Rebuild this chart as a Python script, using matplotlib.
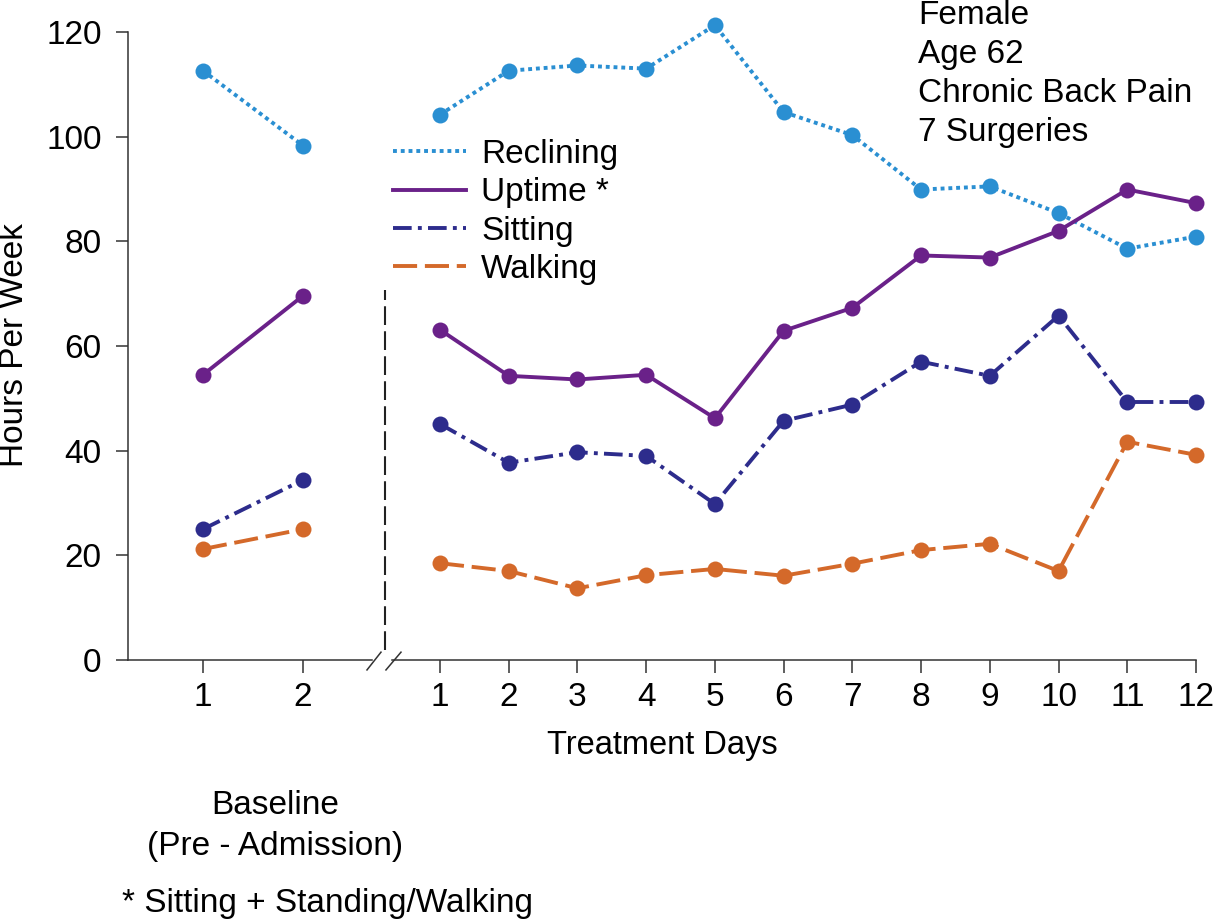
import matplotlib
matplotlib.use('Agg')
import matplotlib.pyplot as plt
from matplotlib.lines import Line2D

W, H = 1213, 921

baseline_days = [1, 2]
treatment_days = list(range(1, 13))

reclining_base = [112.6, 98.3]
uptime_base = [54.5, 69.6]
sitting_base = [25.0, 34.4]
walking_base = [21.2, 25.0]

reclining = [104.2, 112.6, 113.6, 113.0, 121.3, 104.7, 100.3, 89.9, 90.5, 85.4, 78.6, 80.9]
uptime = [63.1, 54.3, 53.6, 54.5, 46.2, 62.9, 67.3, 77.3, 76.9, 82.0, 89.9, 87.3]
sitting = [45.1, 37.7, 39.7, 39.0, 29.8, 45.7, 48.8, 57.0, 54.3, 65.8, 49.3, 49.3]
walking = [18.5, 17.0, 13.7, 16.2, 17.4, 16.1, 18.4, 21.0, 22.2, 17.0, 41.7, 39.2]

y_ticks = [0, 20, 40, 60, 80, 100, 120]
patient_info = ['Female', 'Age 62', 'Chronic Back Pain', '7 Surgeries']

series = [
    ('Reclining', reclining_base, reclining, '#2a8fd2', (0, (1.0, 1.0))),
    ('Uptime *', uptime_base, uptime, '#6a2189', '-'),
    ('Sitting', sitting_base, sitting, '#2d2c8c', (0, (4.8, 1.6, 1.0, 1.6))),
    ('Walking', walking_base, walking, '#d4692a', (0, (6.2, 2.0))),
]

regular = ['Liberation Sans', 'DejaVu Sans']
narrow = ['Liberation Sans Narrow', 'Liberation Sans', 'DejaVu Sans']
plt.rcParams['font.family'] = regular
fs = 24
axis_color = '#333333'

fig = plt.figure(figsize=(W / 100, H / 100), dpi=100)
ax1 = fig.add_axes([128 / W, 261 / H, (372 - 128) / W, 628 / H])
ax2 = fig.add_axes([392 / W, 261 / H, (1196 - 392) / W, 628 / H], sharey=ax1)

lw = 2.8
for name, base, treat, color, ls in series:
    ax1.plot(baseline_days, base, color=color, linestyle=ls, lw=lw,
             marker='o', markersize=11.5, markeredgewidth=0, clip_on=False,
             dash_capstyle='butt')
    ax2.plot(treatment_days, treat, color=color, linestyle=ls, lw=lw,
             marker='o', markersize=11.5, markeredgewidth=0, clip_on=False,
             dash_capstyle='butt')

ax1.set_xlim(0.25, 2.69)
ax2.set_xlim(0.302, 12)
ax1.set_ylim(0, 120)
ax1.set_yticks(y_ticks)
ax1.set_xticks(baseline_days)
ax2.set_xticks(treatment_days)

for ax in (ax1, ax2):
    for s in ('top', 'right'):
        ax.spines[s].set_visible(False)
    for s in ('left', 'bottom'):
        ax.spines[s].set_color(axis_color)
        ax.spines[s].set_linewidth(1.1)
    ax.tick_params(axis='x', direction='out', length=9, width=1.1,
                   color=axis_color, pad=7, labelsize=fs)
    for lab in ax.get_xticklabels():
        lab.set_family(narrow)
ax1.tick_params(axis='y', direction='out', length=9, width=1.1,
                color=axis_color, pad=10, labelsize=fs)
ax2.spines['left'].set_visible(False)
ax2.tick_params(axis='y', left=False, labelleft=False)

# dashed separator between baseline and treatment
ax2.plot([0.2, 0.2], [1.9, 70.7], color='#222222', lw=1.5,
         linestyle=(0, (9, 3)), clip_on=False)
# axis break marks
ax2.plot([-0.062, 0.142], [-1.9, 1.5], color=axis_color, lw=1.1, clip_on=False)
ax2.plot([0.214, 0.433], [-1.9, 1.5], color=axis_color, lw=1.1, clip_on=False)

handles = [Line2D([], [], color=c, linestyle=ls, lw=lw, dash_capstyle='butt')
           for _, _, _, c, ls in series]
fig.legend(handles, [s[0] for s in series], loc='upper left',
           bbox_to_anchor=(393 / W, 1 - 139 / H), frameon=False,
           prop={'family': regular, 'size': fs}, handlelength=2.2,
           handletextpad=0.45, labelspacing=0.22, borderpad=0, borderaxespad=0)

for i, line in enumerate(patient_info):
    fig.text(918 / W, 1 - (15 + 39 * i) / H, line, fontsize=fs,
             ha='left', va='center', family=regular)

fig.text(15 / W, 1 - 345 / H, 'Hours Per Week', rotation=90, fontsize=fs,
         ha='center', va='center', family=narrow)
fig.text(662 / W, 1 - 745 / H, 'Treatment Days', fontsize=23.5,
         ha='center', va='center', family=narrow)
fig.text(275 / W, 1 - 805 / H, 'Baseline', fontsize=fs,
         ha='center', va='center', family=narrow)
fig.text(275 / W, 1 - 846 / H, '(Pre - Admission)', fontsize=fs,
         ha='center', va='center', family=narrow)
fig.text(122 / W, 1 - 903 / H, '* Sitting + Standing/Walking', fontsize=fs,
         ha='left', va='center', family=narrow)

fig.savefig('out.png', dpi=100)
